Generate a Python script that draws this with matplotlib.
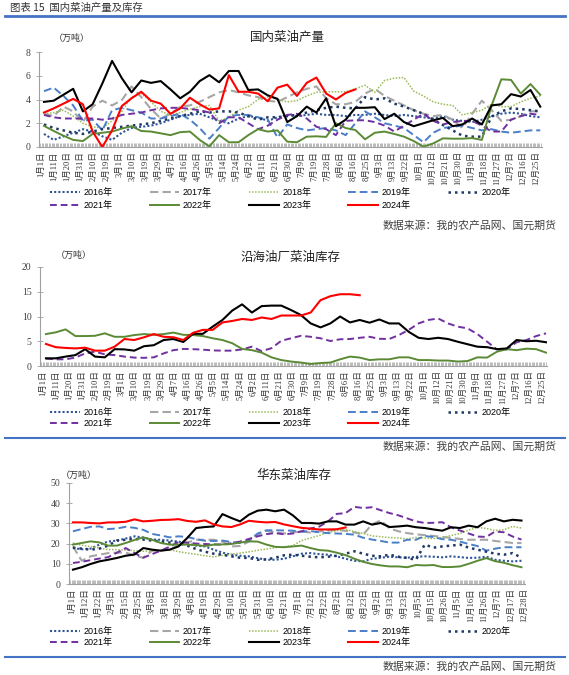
import matplotlib.pyplot as plt
import numpy as np
from matplotlib.lines import Line2D

plt.rcParams['font.family'] = ['Noto Sans CJK SC', 'DejaVu Sans']

years = ['2016年', '2017年', '2018年', '2019年', '2020年', '2021年', '2022年', '2023年', '2024年']

ticks_ab = ['1月1日', '1月11日', '1月20日', '1月31日', '2月10日', '2月19日', '3月1日', '3月10日',
            '3月19日', '3月29日', '4月7日', '4月16日', '4月26日', '5月5日', '5月14日', '5月24日',
            '6月2日', '6月11日', '6月21日', '6月30日', '7月9日', '7月19日', '7月28日', '8月6日',
            '8月16日', '8月25日', '9月3日', '9月13日', '9月22日', '10月1日', '10月12日', '10月21日',
            '10月30日', '11月9日', '11月18日', '11月27日', '12月7日', '12月16日', '12月25日']
ticks_c = ['1月1日', '1月12日', '1月22日', '2月3日', '2月15日', '2月25日', '3月8日', '3月18日',
           '3月29日', '4月8日', '4月19日', '4月29日', '5月10日', '5月20日', '5月31日', '6月10日',
           '6月21日', '7月1日', '7月12日', '7月22日', '8月2日', '8月12日', '8月23日', '9月2日',
           '9月13日', '9月23日', '10月5日', '10月15日', '10月26日', '11月5日', '11月16日', '11月26日',
           '12月7日', '12月17日', '12月28日']

# 国内菜油产量 (weekly, 万吨)
prod_2016 = [1.1, 0.6, 0.9, 1.2, 1.5, 1.3, 0.9, 0.6, 1.2, 1.6, 1.7, 1.8, 2.0, 2.3, 2.6, 2.7, 2.8, 2.5, 2.2, 2.0,
             2.4, 2.6, 2.5, 2.2, 2.5, 2.7, 2.6, 2.7, 2.8, 2.7, 2.7, 2.6, 2.7, 2.7, 2.8, 2.7, 2.6, 2.7, 2.6,
             2.5, 2.4, 2.6, 2.3, 2.2, 2.1, 2.3, 2.6, 2.8, 2.9, 2.8, 2.6, 2.5]
prod_2017 = [2.8, 2.6, 3.4, 3.0, 2.1, 3.4, 3.9, 3.5, 3.95, 5.1, 4.2, 3.2, 2.4, 2.8, 3.4, 3.5, 3.8, 4.2, 4.6, 4.8,
             4.6, 4.35, 4.2, 3.9, 3.8, 4.2, 4.6, 4.9, 5.1, 4.1, 3.6, 3.6, 3.8, 4.5, 4.9, 4.3, 3.9, 3.5, 3.1,
             2.8, 2.6, 2.7, 2.3, 1.6, 2.8, 3.9, 3.1, 2.2, 2.3, 2.6, 3.0, 3.0]
prod_2018 = [2.8, 2.9, 3.1, 2.6, 2.0, 1.7, 1.6, 2.2, 3.0, 4.2, 4.5, 3.8, 3.0, 2.7, 2.9, 3.2, 3.4, 3.5, 2.2, 2.5,
             3.1, 3.4, 4.0, 4.2, 4.0, 3.8, 3.9, 4.3, 4.6, 4.65, 4.65, 4.65, 4.9, 5.2, 4.6, 5.6, 5.8, 5.85, 4.7,
             4.3, 3.8, 3.6, 3.5, 2.7, 2.9, 3.1, 3.6, 3.4, 3.4, 3.8, 4.1, 4.3]
prod_2019 = [4.7, 5.0, 4.3, 3.5, 2.2, 2.3, 1.4, 3.1, 3.3, 3.1, 2.9, 2.4, 2.4, 2.6, 2.8, 2.3, 1.6, 0.7, 1.6, 2.6,
             2.7, 2.7, 2.5, 2.3, 0.8, 1.9, 1.6, 1.4, 1.5, 1.6, 1.4, 1.0, 2.0, 3.0, 2.5, 2.0, 1.8, 1.6, 1.0,
             0.4, 1.2, 1.6, 1.7, 1.8, 1.6, 1.4, 1.5, 1.3, 1.2, 1.3, 1.4, 1.4]
prod_2020 = [1.9, 1.6, 1.4, 1.2, 1.1, 1.3, 1.5, 1.6, 1.7, 1.8, 1.9, 2.0, 2.2, 2.4, 2.6, 2.8, 3.0, 2.9, 3.0, 3.0,
             2.9, 2.6, 2.3, 2.5, 2.5, 2.6, 2.7, 2.9, 3.1, 3.3, 3.4, 3.3, 3.25, 4.2, 4.0, 4.1, 3.65, 3.4, 3.1,
             2.8, 2.3, 1.85, 1.4, 0.95, 0.87, 0.87, 2.55, 3.0, 3.25, 3.2, 3.1, 3.0]
prod_2021 = [2.7, 2.5, 2.4, 2.4, 2.4, 2.4, 2.3, 2.4, 2.7, 2.8, 2.9, 3.1, 3.25, 3.3, 3.3, 3.2, 3.1, 2.9, 2.0, 2.5,
             2.5, 2.0, 1.5, 1.8, 2.3, 2.7, 2.8, 2.4, 1.7, 1.5, 1.0, 2.2, 2.25, 2.25, 2.1, 1.8, 1.3, 1.8, 2.3,
             2.8, 2.2, 1.9, 2.1, 2.2, 2.2, 1.8, 1.3, 1.3, 2.3, 2.6, 2.8, 2.7]
prod_2022 = [1.78, 1.35, 0.95, 0.6, 0.5, 1.1, 1.2, 1.3, 1.55, 1.75, 1.35, 1.3, 1.15, 1.0, 1.25, 1.3, 0.6, 0.05,
             1.0, 0.4, 0.4, 1.0, 1.5, 1.3, 1.4, 0.45, 0.4, 0.87, 0.9, 0.85, 2.0, 1.6, 1.43, 0.65, 1.2, 1.3,
             1.1, 0.87, 0.5, 0.03, 0.3, 0.73, 0.7, 0.7, 0.75, 0.6, 3.5, 5.7, 5.65, 4.5, 5.3, 4.4]
prod_2023 = [3.8, 3.9, 4.4, 4.9, 3.0, 3.6, 5.35, 7.25, 5.8, 4.6, 5.6, 5.4, 5.55, 4.85, 4.1, 4.65, 5.55, 6.05,
             5.45, 6.4, 6.4, 4.8, 4.85, 4.35, 4.05, 2.1, 2.6, 3.4, 2.9, 4.1, 1.75, 2.3, 3.3, 3.3, 3.35, 2.35,
             2.8, 2.1, 1.75, 2.0, 2.25, 2.45, 1.75, 1.9, 2.4, 1.9, 3.5, 3.6, 4.45, 4.25, 4.8, 3.4]
prod_2024 = [2.9, 3.25, 3.65, 4.05, 3.6, 1.3, 0.0, 1.4, 3.45, 4.1, 4.65, 3.9, 3.65, 2.8, 3.25, 4.15, 3.6, 3.15,
             3.25, 6.05, 4.65, 4.65, 4.5, 3.85, 5.0, 5.25, 4.3, 5.4, 5.85, 4.5, 4.0, 4.55, 4.85]

# 沿海油厂菜油库存
coast_2021 = [1.5, 1.35, 1.35, 1.7, 2.55, 2.9, 2.35, 2.2, 1.9, 1.7, 1.65, 1.75, 2.55, 3.2, 3.45, 3.4, 3.3, 3.15,
              3.1, 3.1, 3.35, 3.9, 3.0, 3.6, 5.1, 5.6, 6.1, 5.9, 5.6, 5.05, 5.4, 5.45, 5.7, 5.9, 5.5, 5.45, 6.25,
              7.3, 8.6, 9.3, 9.6, 8.6, 7.95, 7.6, 6.45, 4.9, 3.35, 3.35, 4.8, 5.25, 6.05, 6.6]
coast_2022 = [6.45, 6.8, 7.4, 6.05, 6.05, 6.1, 6.6, 5.9, 5.9, 6.25, 6.45, 6.3, 6.45, 6.75, 6.3, 6.25, 6.05, 5.6,
              5.25, 4.6, 3.45, 3.2, 2.7, 1.75, 1.2, 0.9, 0.7, 0.4, 0.6, 0.7, 1.35, 1.9, 1.7, 1.2, 1.35, 1.35,
              1.75, 1.75, 1.2, 1.2, 1.1, 1.1, 0.9, 1.0, 1.75, 1.7, 2.9, 3.4, 3.2, 3.5, 3.4, 2.7]
coast_2023 = [1.55, 1.55, 1.9, 2.2, 3.4, 1.9, 1.75, 3.4, 3.35, 3.1, 4.0, 4.2, 5.25, 5.45, 4.85, 6.5, 6.5, 7.95,
              9.3, 11.2, 12.45, 10.8, 12.1, 12.2, 12.2, 11.3, 10.3, 8.6, 7.8, 8.6, 10.0, 8.8, 9.3, 8.75, 9.4,
              8.6, 8.6, 6.9, 5.7, 5.45, 5.7, 5.45, 4.9, 4.4, 3.9, 3.8, 3.4, 3.55, 5.25, 5.0, 5.1, 4.8]
coast_2024 = [4.45, 3.8, 3.65, 3.55, 3.7, 3.1, 3.1, 3.9, 5.45, 5.25, 5.8, 6.45, 5.9, 5.8, 5.25, 6.7, 7.3, 7.3,
              8.8, 9.1, 9.5, 9.3, 9.8, 9.5, 10.2, 10.2, 10.2, 10.8, 13.3, 14.1, 14.5, 14.5, 14.3]

# 华东菜油库存
east_2016 = [17.8, 17.2, 17.5, 19.5, 21.0, 21.5, 22.5, 23.6, 23.0, 22.0, 21.9, 21.5, 21.0, 20.0, 19.0, 18.6,
             17.0, 15.5, 14.5, 14.0, 13.7, 12.8, 12.0, 12.0, 12.5, 13.7, 15.0, 15.3, 14.8, 14.5, 13.7, 12.5,
             11.5, 11.2, 12.5, 13.0, 13.5, 13.2, 13.0, 13.5, 13.7, 13.5, 13.2, 13.7, 13.3, 12.9, 13.0, 13.5,
             12.0, 11.5, 11.2, 11.5]
east_2017 = [18.6, 11.5, 13.7, 14.5, 15.3, 15.5, 15.6, 14.0, 13.0, 16.5, 16.6, 17.3, 19.0, 20.5, 21.9, 21.9,
             21.9, 21.0, 18.6, 18.8, 21.0, 24.5, 26.3, 25.5, 25.0, 25.5, 26.0, 25.5, 26.0, 26.5, 26.8, 26.3,
             25.5, 24.5, 29.5, 31.5, 27.5, 26.1, 25.2, 24.6, 24.2, 23.8, 23.3, 22.8, 22.3, 21.9, 21.9, 21.9,
             21.3, 20.8, 20.3, 20.3]
east_2018 = [20.3, 19.2, 18.5, 17.8, 17.0, 17.0, 16.8, 16.5, 16.2, 16.4, 16.7, 17.0, 16.0, 15.3, 14.7, 14.0,
             13.4, 14.2, 14.8, 15.3, 15.9, 16.7, 17.3, 18.0, 18.5, 19.0, 21.5, 22.8, 24.0, 25.5, 26.4, 26.9,
             26.0, 25.0, 23.8, 23.4, 23.0, 22.8, 22.3, 23.0, 22.8, 22.5, 23.0, 24.0, 25.0, 26.7, 28.0, 27.5,
             26.5, 26.8, 28.5, 27.7]
east_2019 = [26.1, 27.2, 28.3, 28.5, 27.2, 27.5, 28.3, 27.8, 26.8, 24.8, 24.0, 23.1, 23.6, 23.3, 22.2, 21.4,
             21.3, 21.5, 20.8, 20.3, 21.5, 25.0, 26.6, 26.6, 26.5, 26.4, 25.9, 26.2, 25.6, 25.2, 25.0, 24.8,
             24.4, 22.9, 22.0, 21.3, 20.5, 20.5, 21.9, 21.9, 23.8, 23.2, 22.2, 21.9, 21.0, 19.8, 18.8, 16.5,
             17.5, 18.2, 18.2, 18.2]
east_2020 = [18.0, 17.5, 17.0, 17.5, 19.0, 21.5, 21.9, 22.3, 22.0, 21.5, 21.1, 20.5, 20.3, 19.0, 17.3, 16.0,
             15.0, 14.5, 13.7, 13.0, 12.9, 12.0, 12.2, 13.0, 14.2, 14.5, 14.0, 13.5, 13.2, 13.5, 14.0, 15.0,
             16.2, 15.0, 14.0, 13.7, 14.5, 13.5, 12.9, 12.0, 19.5, 18.0, 18.6, 19.0, 19.5, 18.0, 17.0, 16.0,
             15.0, 14.5, 15.3, 13.0]
east_2021 = [10.4, 11.0, 11.8, 12.6, 13.3, 15.5, 17.8, 15.3, 13.0, 14.8, 16.5, 18.5, 20.8, 20.5, 20.0, 19.8,
             19.6, 19.5, 20.2, 21.0, 22.3, 23.6, 24.7, 25.2, 24.6, 25.0, 26.1, 27.5, 28.4, 31.0, 34.7, 35.1,
             38.2, 37.6, 38.0, 36.5, 35.1, 34.0, 32.5, 31.0, 30.2, 30.3, 30.6, 28.0, 26.5, 25.0, 23.5, 23.3,
             26.0, 25.6, 23.5, 22.0]
east_2022 = [19.5, 20.3, 21.1, 20.6, 19.0, 19.0, 20.3, 21.8, 23.1, 21.9, 20.3, 19.5, 19.5, 19.5, 19.3, 18.8,
             19.5, 19.6, 19.8, 20.5, 21.1, 21.0, 19.5, 18.4, 18.2, 18.6, 19.0, 17.8, 16.8, 16.5, 15.5, 14.3,
             12.5, 11.0, 9.9, 9.2, 8.7, 8.7, 8.3, 9.4, 9.2, 9.4, 8.4, 8.4, 8.7, 10.0, 11.5, 12.8, 11.3, 10.5,
             9.3, 8.3]
east_2023 = [7.1, 8.3, 9.9, 11.2, 12.0, 12.9, 14.0, 14.6, 17.8, 17.0, 16.5, 17.0, 18.6, 22.8, 27.7, 28.2, 28.5,
             34.6, 32.7, 31.0, 34.3, 36.3, 36.8, 36.0, 36.8, 34.0, 30.2, 30.2, 29.9, 31.0, 31.0, 29.4, 29.4,
             31.0, 29.4, 30.2, 28.2, 28.5, 28.9, 28.1, 27.7, 27.0, 26.4, 28.1, 27.7, 28.9, 28.1, 31.0, 32.3,
             31.0, 31.8, 31.4]
east_2024 = [30.5, 30.5, 30.2, 30.0, 30.5, 30.5, 30.8, 32.0, 31.0, 31.3, 31.7, 31.8, 32.1, 31.2, 30.8, 31.5,
             29.5, 28.5, 28.2, 29.5, 31.3, 30.8, 30.5, 30.7, 29.5, 28.6, 27.8, 27.4, 27.0, 27.0, 27.1, 28.0]

# line styles per year
styles = {
    '2016年': dict(color='#2F5597', ls=(0, (1, 1)), lw=1.5),
    '2017年': dict(color='#A6A6A6', ls=(0, (4, 2)), lw=1.5),
    '2018年': dict(color='#9BBB59', ls=(0, (1, 1)), lw=1.1),
    '2019年': dict(color='#4A7EC8', ls=(0, (4, 2)), lw=1.4),
    '2020年': dict(color='#203864', ls=(0, (1, 1.6)), lw=1.8),
    '2021年': dict(color='#7030A0', ls=(0, (3.5, 2)), lw=1.4),
    '2022年': dict(color='#5B8A35', ls='-', lw=1.4),
    '2023年': dict(color='black', ls='-', lw=1.5),
    '2024年': dict(color='#FF0000', ls='-', lw=1.5),
}

W, H = 569, 675
fig = plt.figure(figsize=(W / 100, H / 100), dpi=100)


def fx(px):
    return px / W


def fy(py):
    return 1 - py / H


# header
fig.text(fx(10), fy(8), '图表 15  国内菜油产量及库存', va='center', ha='left', fontsize=7.5, color='#333333')
fig.add_artist(Line2D([fx(5), fx(565)], [fy(16), fy(16)], color='#4472C4', lw=2))


def panel(box, series, ymax, ystep, ticklabels, tickpos, xlim, title, title_y, unit_x, unit_y, leg_y, leg_sp):
    l, t, r, b = box
    ax = fig.add_axes([fx(l), fy(b), fx(r) - fx(l), fy(t) - fy(b)])
    for name, vals in series:
        st = styles[name]
        ax.plot(np.arange(len(vals)), vals, color=st['color'], linestyle=st['ls'], lw=st['lw'])
    ax.set_ylim(0, ymax)
    ax.set_xlim(*xlim)
    ax.set_yticks(np.arange(0, ymax + 0.01, ystep))
    ax.set_yticklabels([str(int(v)) for v in np.arange(0, ymax + 0.01, ystep)],
                       family=['Liberation Serif'], fontsize=7, color='#404040')
    ax.set_xticks(tickpos)
    ax.set_xticklabels(ticklabels, rotation=90, fontsize=6.1, color='#333333',
                       family=['Liberation Serif', 'Noto Sans CJK SC'])
    ax.set_xticks(np.arange(xlim[0], xlim[1], 1 / 7), minor=True)
    ax.tick_params(axis='x', which='major', length=0, pad=3)
    ax.tick_params(axis='x', which='minor', direction='in', length=3, width=0.5, color='#A0A0A0')
    ax.tick_params(axis='y', direction='inout', length=4, width=0.6, color='#A0A0A0', pad=4)
    for s in ['top', 'right']:
        ax.spines[s].set_visible(False)
    ax.spines['left'].set_color('#A0A0A0')
    ax.spines['bottom'].set_color('#A0A0A0')
    ax.patch.set_alpha(0)

    fig.text(fx((l + r) / 2 - 3), fy(title_y), title, ha='center', va='center', fontsize=9, color='#222222')
    fig.text(fx(unit_x), fy(unit_y), '（万吨）', ha='left', va='center', fontsize=6.5, color='#333333')

    order = [0, 5, 1, 6, 2, 7, 3, 8, 4]
    handles = [Line2D([], [], color=styles[years[i]]['color'], linestyle=styles[years[i]]['ls'],
                      lw=styles[years[i]]['lw']) for i in order]
    fig.legend(handles, [years[i] for i in order], loc='upper left', bbox_to_anchor=(fx(50), fy(leg_y)),
               ncol=5, frameon=False, borderpad=0, borderaxespad=0, handlelength=3.3, handletextpad=0.4,
               columnspacing=4.1, labelspacing=leg_sp,
               prop={'family': ['Liberation Sans', 'Noto Sans CJK SC'], 'size': 6.5})
    return ax


tick_ab = np.linspace(-0.3, 50.6, len(ticks_ab))
tick_c = np.linspace(-0.1, 51.3, len(ticks_c))

panel((39, 52, 542, 147),
      list(zip(years, [prod_2016, prod_2017, prod_2018, prod_2019, prod_2020, prod_2021, prod_2022,
                       prod_2023, prod_2024])),
      8, 2, ticks_ab, tick_ab, (-0.51, 51.18), '国内菜油产量', 37, 54, 38, 188, 0.45)

panel((40, 267, 547, 366),
      list(zip(years[5:], [coast_2021, coast_2022, coast_2023, coast_2024])),
      20, 5, ticks_ab, tick_ab, (-0.61, 51.1), '沿海油厂菜油库存', 257, 56, 255, 408, 0.2)

panel((69, 483, 525, 584),
      list(zip(years, [east_2016, east_2017, east_2018, east_2019, east_2020, east_2021, east_2022,
                       east_2023, east_2024])),
      50, 10, ticks_c, tick_c, (-0.45, 51.4), '华东菜油库存', 475, 61, 475, 627, 0.2)

src = '数据来源：我的农产品网、国元期货'
for yy in [226, 447, 667]:
    fig.text(fx(557), fy(yy), src, ha='right', va='center', fontsize=7.8, color='#404040')
for yy in [438, 657]:
    fig.add_artist(Line2D([fx(5), fx(565)], [fy(yy), fy(yy)], color='#4472C4', lw=1.5))

fig.savefig('out.png', dpi=100)
